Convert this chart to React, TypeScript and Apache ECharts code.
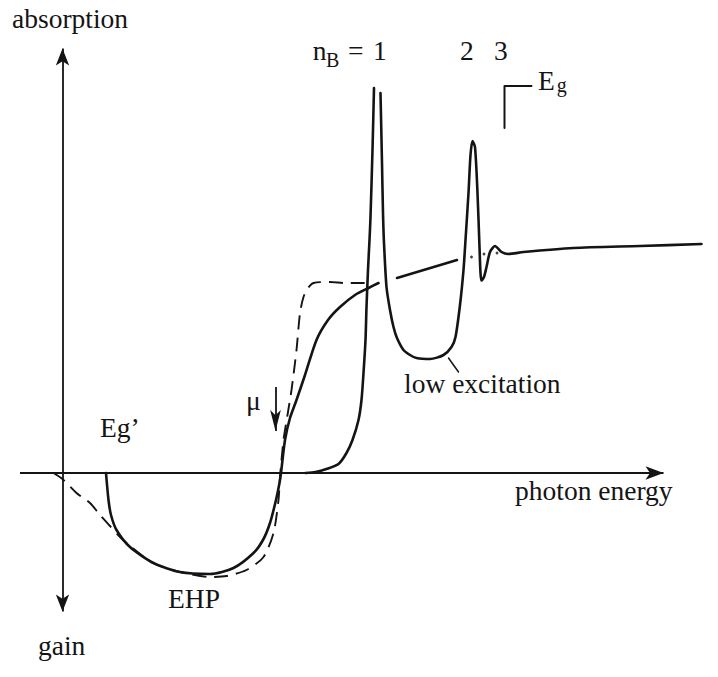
import React, { useEffect, useRef } from "react";
import * as echarts from "echarts";

// x: photon energy (arbitrary units), y: absorption (>0) / gain (<0), arbitrary units
const lowExcitationRise: [number, number][] = [
  [24.3, 0], [25.3, 0.1], [26.4, 0.4], [27.6, 0.9], [28.4, 2.0], [29.0, 3.3],
  [29.6, 5.3], [29.9, 7.3], [30.1, 10.0], [30.3, 13.3], [30.4, 16.6],
  [30.55, 20.3], [30.7, 23.3], [30.8, 25.6], [31.0, 32.3], [31.15, 38.5],
];
const lowExcitationMain: [number, number][] = [
  [31.8, 38.0], [31.95, 31.0], [32.05, 26.0], [32.15, 23.0], [32.4, 18.6],
  [32.75, 16.3], [33.1, 14.6], [33.45, 13.5], [34.1, 12.3], [34.75, 11.8],
  [35.4, 11.5], [36.75, 11.4], [38.1, 11.8], [38.9, 12.6], [39.3, 13.6],
  [39.75, 16.8], [40.1, 20.3], [40.3, 23.3], [40.6, 28.0], [40.8, 31.8],
  [41.0, 33.2], [41.25, 32.6], [41.5, 28.0], [41.7, 22.6], [41.8, 20.0],
  [41.9, 19.25], [42.15, 19.6], [42.4, 20.6], [42.75, 22.1], [43.25, 22.7],
  [43.9, 22.1], [44.6, 21.9], [46.1, 22.1], [51.1, 22.5], [57.75, 22.7],
  [63.9, 22.9],
];
const ehpSolid: [number, number][] = [
  [4.35, 0], [4.6, -2.7], [4.85, -4.2], [5.4, -5.7], [6.75, -7.4], [9.1, -9.0],
  [11.75, -9.9], [14.75, -10.1], [17.1, -9.5], [19.1, -8.0], [20.05, -6.7],
  [20.75, -5.0], [21.35, -2.7], [21.7, -1.0], [21.85, 0], [22.25, 3.3],
  [22.75, 5.5], [23.4, 7.3], [24.25, 9.8], [25.4, 13.3], [26.55, 15.3],
  [27.75, 16.6], [29.25, 17.8], [30.6, 18.5], [31.6, 19.0],
];
const ehpSolidTail: [number, number][] = [
  [33.45, 19.5], [39.45, 21.3],
];
const ehpDashed: [number, number][] = [
  [-0.9, 0], [0, -0.6], [1.4, -2.0], [2.75, -3.0], [3.75, -4.2], [4.75, -5.3],
  [5.75, -6.4], [6.75, -7.3], [9.05, -9.0], [11.75, -9.9], [14.75, -10.4],
  [16.4, -10.3], [18.4, -9.7], [20.1, -8.4], [21.1, -6.0], [21.6, -2.7],
  [21.75, -0.4], [22.1, 3.3], [22.5, 5.8], [22.9, 8.3], [23.4, 12.3],
  [23.75, 16.0], [24.1, 17.6], [24.55, 18.5], [25.1, 19.0], [26.75, 19.1],
  [28.25, 19.0], [30.1, 19.0], [30.95, 18.8],
];
const continuumDots: [number, number][] = [
  [40.9, 21.6], [42.15, 21.9], [43.45, 22.0],
];
const egBracket: [number, number][] = [[44.2, 34.5], [44.2, 38.7], [46.9, 38.7]];
const leaderLine: [number, number][] = [[38.6, 11.5], [39.6, 10.1]];
const muArrow: [number, number][] = [[21.3, 8.6], [21.3, 4.2]];
const energyAxis: [number, number][] = [[-4.25, 0], [60.1, 0]];
const absorptionAxis: [number, number][] = [[0, 42.45], [0, -13.85]];

const FONT = '"Liberation Serif", "Times New Roman", serif';
const INK = "#141414";

type Label = { text: string; x: number; y: number; size: number };
const labels: Label[] = [
  { text: "absorption", x: 12, y: 18.7, size: 27.5 },
  { text: "gain", x: 38, y: 645.7, size: 27.5 },
  { text: "photon energy", x: 515, y: 490.7, size: 27.5 },
  { text: "low excitation", x: 404, y: 383.7, size: 27.5 },
  { text: "Eg\u2019", x: 100, y: 427.4, size: 27.5 },
  { text: "EHP", x: 168, y: 598.7, size: 27.5 },
  { text: "\u03bc", x: 246, y: 400, size: 27.5 },
  { text: "n", x: 312.7, y: 50.7, size: 27.5 },
  { text: "B", x: 326, y: 60, size: 20 },
  { text: "=", x: 348, y: 50.7, size: 27.5 },
  { text: "1", x: 373, y: 50.7, size: 27.5 },
  { text: "2", x: 460, y: 50.7, size: 27.5 },
  { text: "3", x: 494, y: 50.7, size: 27.5 },
  { text: "E", x: 538, y: 80.7, size: 27.5 },
  { text: "g", x: 556.7, y: 85.3, size: 20 },
];

const solid = (name: string, data: [number, number][], width = 2.6) => ({
  name,
  type: "line",
  data,
  showSymbol: false,
  symbol: "none",
  smooth: 0.25,
  silent: true,
  lineStyle: { color: INK, width, type: "solid", join: "round", cap: "round" },
  z: 3,
});

export default function App() {
  const ref = useRef<HTMLDivElement>(null);
  useEffect(() => {
    if (!ref.current) return;
    const chart = echarts.init(ref.current, undefined, { renderer: "svg" });
    const arrowLine = (
      pts: [number, number][],
      start: string,
      end: string,
      size: [number, number]
    ) => [
      { coord: pts[0], symbol: start, symbolSize: size },
      { coord: pts[1], symbol: end, symbolSize: size },
    ];
    chart.setOption({
      animation: false,
      backgroundColor: "#ffffff",
      grid: { left: 12.5, right: 15.5, top: 23, bottom: 44 },
      xAxis: { type: "value", min: -5, max: 64, show: false },
      yAxis: { type: "value", min: -16, max: 45, show: false },
      series: [
        {
          ...solid("Eg bracket", egBracket, 2),
          smooth: false,
          markLine: {
            silent: true,
            animation: false,
            label: { show: false },
            lineStyle: { color: INK, width: 1.8, type: "solid" },
            data: [
              arrowLine(energyAxis, "none", "arrow", [10, 18]),
              arrowLine(absorptionAxis, "arrow", "arrow", [10, 17]),
              arrowLine(muArrow, "none", "arrow", [8, 21]),
            ],
          },
        },
        { ...solid("leader", leaderLine, 1.5), smooth: false },
        solid("low excitation rise", lowExcitationRise),
        solid("low excitation", lowExcitationMain),
        solid("EHP", ehpSolid),
        solid("EHP tail", ehpSolidTail),
        {
          ...solid("EHP dashed", ehpDashed, 1.9),
          lineStyle: { color: INK, width: 1.9, type: [14, 8] },
          z: 2,
        },
        {
          name: "continuum dots",
          type: "scatter",
          data: continuumDots,
          symbol: "circle",
          symbolSize: 2.8,
          silent: true,
          itemStyle: { color: INK },
        },
      ],
      graphic: labels.map((l) => ({
        type: "text",
        x: l.x,
        y: l.y,
        silent: true,
        style: {
          text: l.text,
          font: `${l.size}px ${FONT}`,
          fill: INK,
          align: "left",
          verticalAlign: "middle",
          textAlign: "left",
          textVerticalAlign: "middle",
        },
      })),
    });
    return () => chart.dispose();
  }, []);
  return (
    <div
      ref={ref}
      style={{ position: "absolute", left: 0, top: 0, width: 718, height: 677, background: "#fff" }}
    />
  );
}
